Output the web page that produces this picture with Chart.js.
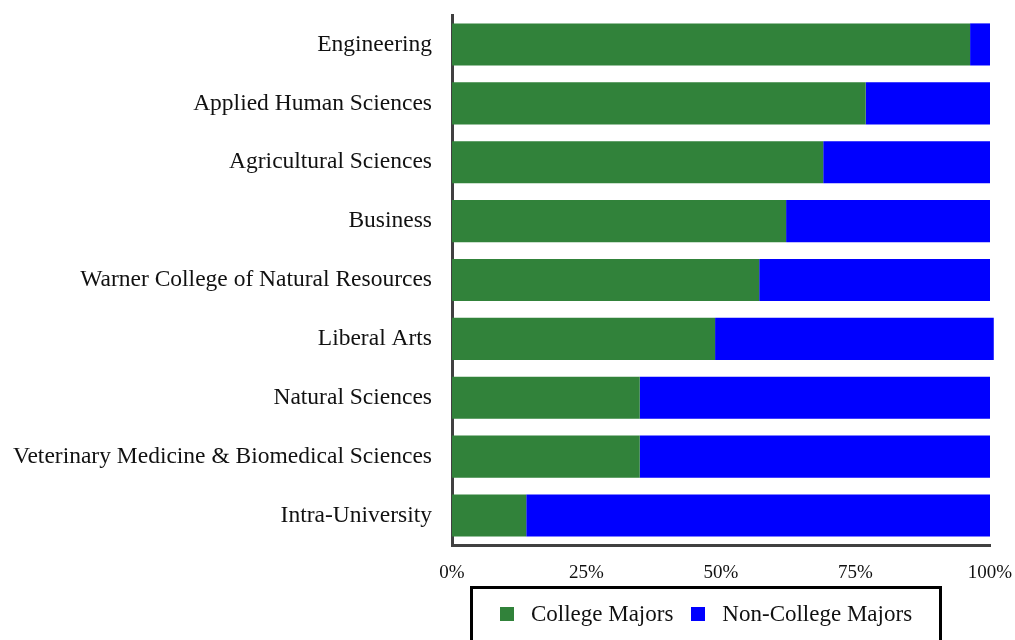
<!DOCTYPE html>
<html lang="en">
<head>
    <meta charset="UTF-8">
    <title>College Majors vs Non-College Majors</title>
    <script src="https://cdn.jsdelivr.net/npm/chart.js@4.4.0/dist/chart.umd.min.js"></script>
    <style>
        html, body { margin: 0; padding: 0; background: #fff; }
        #wrap { position: relative; width: 1015px; height: 640px; overflow: hidden; }
        #legend {
            position: absolute; left: 470px; top: 586px; width: 466px; height: 70px;
            border: 3px solid #000; display: flex; justify-content: center;
            align-items: flex-start; padding-top: 12px; box-sizing: content-box;
            font-family: 'Liberation Serif', serif; font-size: 23px; color: #111;
        }
        .item { display: flex; align-items: center; margin: 0 9px; }
        .sw { width: 14px; height: 14px; margin-right: 17px; }
    </style>
</head>
<body>
    <div id="wrap">
        <canvas id="chart"></canvas>
        <div id="legend"></div>
    </div>

    <script>
        // data (percent of students)
        const colleges = [
            'Engineering',
            'Applied Human Sciences',
            'Agricultural Sciences',
            'Business',
            'Warner College of Natural Resources',
            'Liberal Arts',
            'Natural Sciences',
            'Veterinary Medicine & Biomedical Sciences',
            'Intra-University'
        ];
        const collegeMajors    = [96.3, 76.9, 69.0, 62.1, 57.1, 48.9, 34.9, 34.9, 13.8];
        const nonCollegeMajors = [3.7, 23.1, 31.0, 37.9, 42.9, 51.8, 65.1, 65.1, 86.2];
        const seriesNames  = ['College Majors', 'Non-College Majors'];
        const seriesColors = ['#31823a', '#0000ff'];
        const xTicks = [0, 25, 50, 75, 100];

        const serif = 'Liberation Serif, Times New Roman, serif';

        new Chart(document.getElementById('chart'), {
            type: 'bar',
            data: {
                labels: colleges,
                datasets: [collegeMajors, nonCollegeMajors].map((d, i) => ({
                    label: seriesNames[i],
                    data: d,
                    backgroundColor: seriesColors[i],
                    borderWidth: 0,
                    categoryPercentage: 1,
                    barPercentage: 0.715,
                    clip: false
                }))
            },
            options: {
                indexAxis: 'y',
                responsive: true,
                maintainAspectRatio: false,
                animation: false,
                layout: { padding: { top: 15, right: 25, bottom: 55, left: 12 } },
                plugins: { legend: { display: false }, tooltip: { enabled: false } },
                scales: {
                    x: {
                        stacked: true,
                        min: 0,
                        max: 100,
                        afterBuildTicks: s => { s.ticks = xTicks.map(v => ({ value: v })); },
                        afterFit: s => { s.height = 40; s.paddingLeft = 0; s.paddingRight = 0; },
                        grid: { display: false, drawTicks: false },
                        border: { display: true, color: '#404040', width: 3 },
                        ticks: {
                            padding: 17,
                            color: '#111',
                            font: { family: serif, size: 19 },
                            callback: v => v + '%'
                        }
                    },
                    y: {
                        stacked: true,
                        afterFit: s => { s.width = 440; s.paddingTop = 0; s.paddingBottom = 0; },
                        grid: { display: false, drawTicks: false },
                        border: { display: true, color: '#404040', width: 3 },
                        ticks: {
                            padding: 20,
                            color: '#111',
                            font: { family: serif, size: 23.5 }
                        }
                    }
                }
            }
        });

        // legend box below the plot
        const legend = document.getElementById('legend');
        seriesNames.forEach((name, i) => {
            const item = document.createElement('div');
            item.className = 'item';
            item.innerHTML = '<span class="sw" style="background:' + seriesColors[i] + '"></span><span>' + name + '</span>';
            legend.appendChild(item);
        });
    </script>
</body>
</html>
